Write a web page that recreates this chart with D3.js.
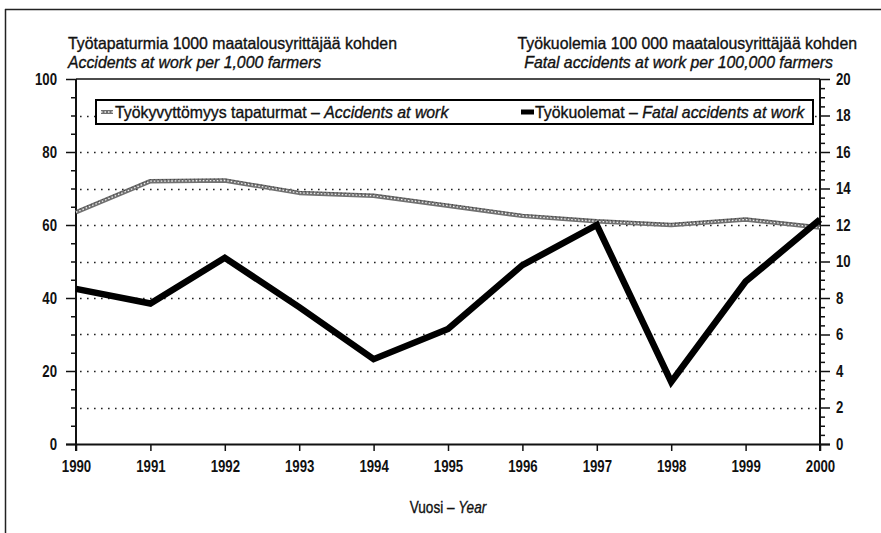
<!DOCTYPE html>
<html>
<head>
<meta charset="utf-8">
<script src="https://cdn.jsdelivr.net/npm/d3@7"></script>
<style>
  html, body { margin: 0; padding: 0; background: #fff; }
  svg { display: block; }
  text { font-family: 'Liberation Sans', Arial, sans-serif; fill: #111; }
</style>
</head>
<body>
<svg id="chart" width="881" height="533"></svg>
<script>
// ---- data ----
const years = [1990, 1991, 1992, 1993, 1994, 1995, 1996, 1997, 1998, 1999, 2000];
const accidents = [63.5, 72, 72.2, 68.8, 68, 65.3, 62.5, 61, 60, 61.5, 59.3];   // per 1,000 farmers (left axis)
const fatal = [8.5, 7.7, 10.2, 7.5, 4.65, 6.3, 9.8, 12.0, 3.4, 8.9, 12.3];      // per 100,000 farmers (right axis)
const leftTicks = [0, 20, 40, 60, 80, 100];
const rightTicks = [0, 2, 4, 6, 8, 10, 12, 14, 16, 18, 20];
const gridValues = [10, 20, 30, 40, 50, 60, 70, 80, 90];
const titleLeft1 = "Työtapaturmia 1000 maatalousyrittäjää kohden";
const titleLeft2 = "Accidents at work per 1,000 farmers";
const titleRight1 = "Työkuolemia 100 000 maatalousyrittäjää kohden";
const titleRight2 = "Fatal accidents at work per 100,000 farmers";
const legendA = ["Työkyvyttömyys tapaturmat – ", "Accidents at work"];
const legendB = ["Työkuolemat – ", "Fatal accidents at work"];
const xTitle = ["Vuosi – ", "Year"];

// ---- layout ----
const svg = d3.select("#chart");
const L = 76, R = 820, T = 79, B = 444;
const font = "'Liberation Sans', Arial, sans-serif";

const x = d3.scaleLinear().domain([1990, 2000]).range([L, R]);
const yL = d3.scaleLinear().domain([0, 100]).range([B, T]);
const yR = d3.scaleLinear().domain([0, 20]).range([B, T]);

// horizontally condense a text element around its own x anchor
function condense(sel, f) {
  sel.each(function () {
    const t = d3.select(this);
    const ax = +(t.attr("x") || 0);
    t.attr("transform", `translate(${ax},0) scale(${f},1) translate(${-ax},0)`);
  });
}
function semibold(sel) {
  sel.attr("stroke", "#111").attr("stroke-width", 0.35);
}

// outer frame
svg.append("line").attr("x1", 5).attr("x2", 881).attr("y1", 9.5).attr("y2", 9.5)
  .attr("stroke", "#222").attr("stroke-width", 1.5);
svg.append("line").attr("x1", 5.5).attr("x2", 5.5).attr("y1", 9).attr("y2", 533)
  .attr("stroke", "#222").attr("stroke-width", 1.5);

// gridlines
svg.append("g").selectAll("line").data(gridValues).join("line")
  .attr("x1", L + 4).attr("x2", R - 2)
  .attr("y1", d => Math.round(yL(d)) + 0.5).attr("y2", d => Math.round(yL(d)) + 0.5)
  .attr("stroke", "#222").attr("stroke-width", 1.6)
  .attr("stroke-dasharray", "1.6,5.4");

// top frame line
svg.append("line").attr("x1", L).attr("x2", R).attr("y1", T).attr("y2", T)
  .attr("stroke", "#111").attr("stroke-width", 1.5);

// left axis
const leftAxis = d3.axisLeft(yL).tickValues(leftTicks).tickSize(10).tickPadding(9).tickFormat(d3.format("d"));
const gL = svg.append("g").attr("transform", `translate(${L},0)`).call(leftAxis);
const leftMinor = d3.axisLeft(yL).tickValues(d3.range(0, 101, 5).filter(v => v % 20 !== 0)).tickSize(5).tickFormat("");
const gLm = svg.append("g").attr("transform", `translate(${L},0)`).call(leftMinor);
gLm.select(".domain").remove();

// right axis
const rightAxis = d3.axisRight(yR).tickValues(rightTicks).tickSize(10).tickPadding(6).tickFormat(d3.format("d"));
const gR = svg.append("g").attr("transform", `translate(${R},0)`).call(rightAxis);
const rightMinor = d3.axisRight(yR).tickValues(d3.range(0, 20.01, 0.5).filter(v => Math.abs(v % 2) > 1e-6)).tickSize(5).tickFormat("");
const gRm = svg.append("g").attr("transform", `translate(${R},0)`).call(rightMinor);
gRm.select(".domain").remove();

// bottom axis
const bottomAxis = d3.axisBottom(x).tickValues(years).tickSize(7).tickPadding(6).tickFormat(d3.format("d"));
const gB = svg.append("g").attr("transform", `translate(0,${B})`).call(bottomAxis);

[gL, gLm, gR, gRm, gB].forEach(g => {
  g.selectAll(".domain").attr("stroke", "#111").attr("stroke-width", 2);
  g.selectAll(".tick line").attr("stroke", "#111").attr("stroke-width", 1.5);
  g.selectAll(".tick text").attr("font-size", 16.5).attr("font-weight", "bold")
    .style("font-family", font).attr("fill", "#111");
});
gB.select(".domain").attr("d", `M${L - 10},0.5H${R + 10}`);
gL.select(".domain").attr("d", `M0,${T}V${B + 7}`);
gR.select(".domain").attr("d", `M0,${T}V${B + 7}`);
gB.selectAll(".tick text").attr("dy", "0.9em");
condense(gL.selectAll(".tick text"), 0.8);
condense(gR.selectAll(".tick text"), 0.8);
condense(gB.selectAll(".tick text"), 0.8);

// lines
const lineA = d3.line().x((d, i) => x(years[i])).y(d => yL(d));
const lineB = d3.line().x((d, i) => x(years[i])).y(d => yR(d));

svg.append("path").datum(accidents).attr("d", lineA)
  .attr("fill", "none").attr("stroke", "#707070").attr("stroke-width", 4.5).attr("stroke-linejoin", "round");
svg.append("path").datum(accidents).attr("d", lineA)
  .attr("fill", "none").attr("stroke", "#f0f0f0").attr("stroke-width", 1.3)
  .attr("stroke-dasharray", "1.5,2");
svg.append("path").datum(accidents).attr("d", lineA)
  .attr("fill", "none").attr("stroke", "#333").attr("stroke-width", 0.9)
  .attr("stroke-dasharray", "1,3").attr("transform", "translate(0,-1.5)");

svg.append("path").datum(fatal).attr("d", lineB)
  .attr("fill", "none").attr("stroke", "#000").attr("stroke-width", 6.5).attr("stroke-linejoin", "miter");

// titles
const t1 = svg.append("text").attr("x", 68).attr("y", 49).attr("font-size", 16.5).style("font-family", font).text(titleLeft1);
const t2 = svg.append("text").attr("x", 68).attr("y", 68).attr("font-size", 16.5).attr("font-style", "italic").style("font-family", font).text(titleLeft2);
const t3 = svg.append("text").attr("x", 857).attr("y", 49).attr("font-size", 16.5).attr("text-anchor", "end").style("font-family", font).text(titleRight1);
const t4 = svg.append("text").attr("x", 833).attr("y", 68).attr("font-size", 16.5).attr("text-anchor", "end").attr("font-style", "italic").style("font-family", font).text(titleRight2);
[t1, t2, t3, t4].forEach(t => { condense(t, 0.96); semibold(t); });

// legend
const lg = svg.append("g");
lg.append("rect").attr("x", 96).attr("y", 100).attr("width", 717).attr("height", 24)
  .attr("fill", "#fff").attr("stroke", "#000").attr("stroke-width", 2);
// swatch A
lg.append("line").attr("x1", 101).attr("x2", 113).attr("y1", 112).attr("y2", 112)
  .attr("stroke", "#707070").attr("stroke-width", 4);
lg.append("line").attr("x1", 101).attr("x2", 113).attr("y1", 112).attr("y2", 112)
  .attr("stroke", "#f0f0f0").attr("stroke-width", 1.3).attr("stroke-dasharray", "1.5,2");
const tA = lg.append("text").attr("x", 115).attr("y", 118).attr("font-size", 16.5).style("font-family", font);
tA.append("tspan").text(legendA[0]);
tA.append("tspan").attr("font-style", "italic").text(legendA[1]);
// swatch B
lg.append("line").attr("x1", 521).attr("x2", 534).attr("y1", 112).attr("y2", 112)
  .attr("stroke", "#000").attr("stroke-width", 5);
const tB = lg.append("text").attr("x", 535).attr("y", 118).attr("font-size", 16.5).style("font-family", font);
tB.append("tspan").text(legendB[0]);
tB.append("tspan").attr("font-style", "italic").text(legendB[1]);
[tA, tB].forEach(t => { condense(t, 0.96); semibold(t); });

// x title
const xt = svg.append("text").attr("x", 448).attr("y", 513).attr("text-anchor", "middle")
  .attr("font-size", 16).style("font-family", font);
xt.append("tspan").text(xTitle[0]);
xt.append("tspan").attr("font-style", "italic").text(xTitle[1]);
condense(xt, 0.85); semibold(xt);
</script>
</body>
</html>
